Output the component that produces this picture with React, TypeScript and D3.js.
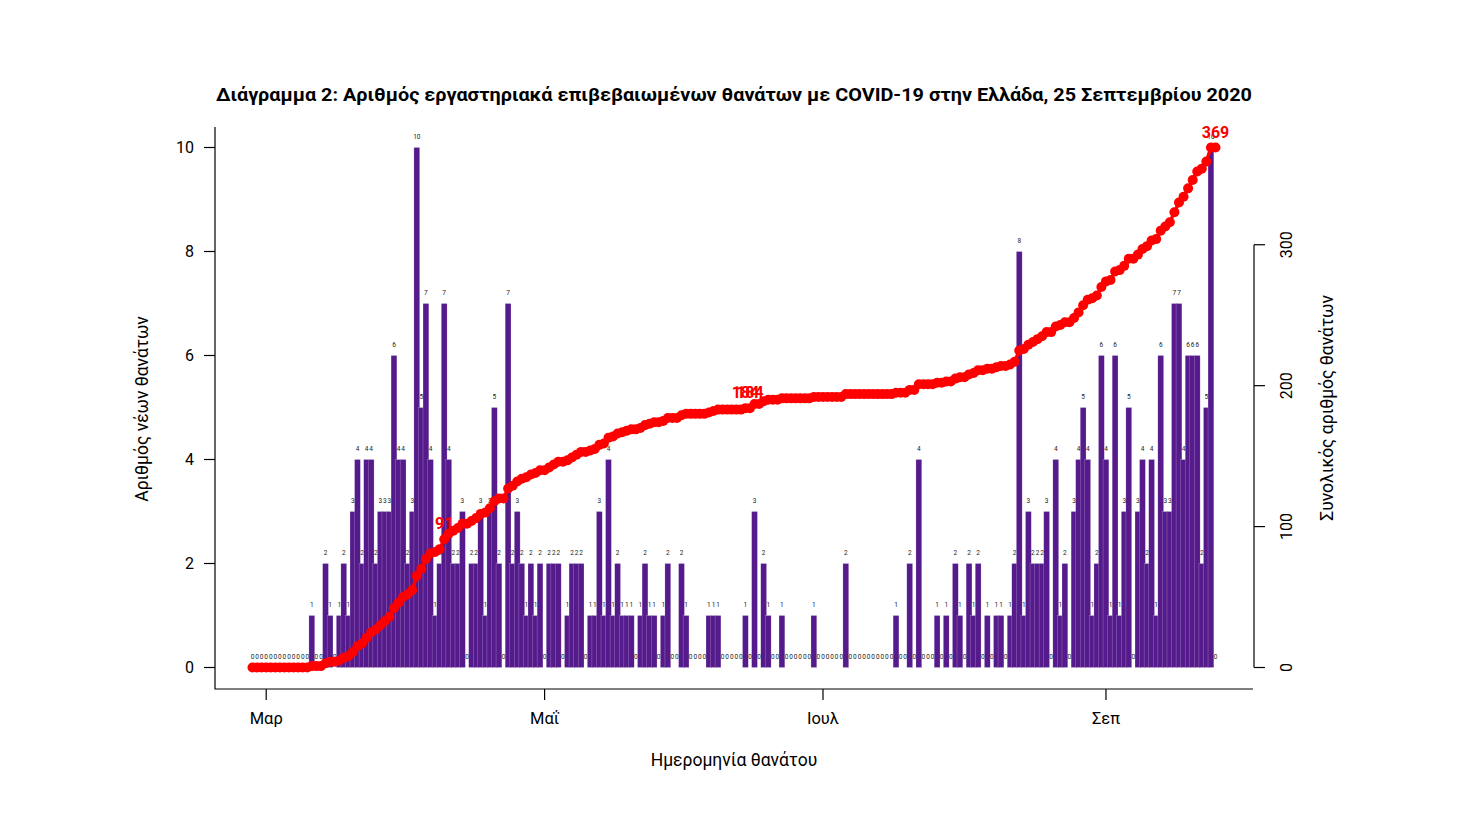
import React, { useEffect, useRef } from 'react';
import * as d3 from 'd3';

// Daily deaths by date of death, 27 Feb - 25 Sep 2020
const deathsFeb = [0, 0, 0];
const deathsMar = [0, 0, 0, 0, 0, 0, 0, 0, 0, 0, 1, 0, 0, 2, 1, 0, 1, 2, 1, 3, 4, 2, 4, 4, 2, 3, 3, 3, 6, 4, 4];
const deathsApr = [2, 3, 10, 5, 7, 4, 1, 2, 7, 4, 2, 2, 3, 0, 2, 2, 3, 1, 3, 5, 2, 0, 7, 2, 3, 2, 1, 2, 1, 2];
const deathsMay = [0, 2, 2, 2, 0, 1, 2, 2, 2, 0, 1, 1, 3, 1, 4, 1, 2, 1, 1, 1, 0, 1, 2, 1, 1, 0, 1, 2, 0, 0, 2];
const deathsJun = [1, 0, 0, 0, 0, 1, 1, 1, 0, 0, 0, 0, 0, 1, 0, 3, 0, 2, 1, 0, 0, 1, 0, 0, 0, 0, 0, 0, 1, 0];
const deathsJul = [0, 0, 0, 0, 0, 2, 0, 0, 0, 0, 0, 0, 0, 0, 0, 0, 1, 0, 0, 2, 0, 4, 0, 0, 0, 1, 0, 1, 0, 2, 1];
const deathsAug = [0, 2, 1, 2, 0, 1, 0, 1, 1, 0, 1, 2, 8, 1, 3, 2, 2, 2, 3, 0, 4, 1, 2, 0, 3, 4, 5, 4, 1, 2, 6];
const deathsSep = [4, 1, 6, 1, 3, 5, 0, 3, 4, 2, 4, 1, 6, 3, 3, 7, 7, 4, 6, 6, 6, 2, 5, 10, 0];

const dailyDeaths = [
  ...deathsFeb, ...deathsMar, ...deathsApr, ...deathsMay,
  ...deathsJun, ...deathsJul, ...deathsAug, ...deathsSep,
];
const startDate = new Date(2020, 1, 27);

const leftTicks = [0, 2, 4, 6, 8, 10];
const rightTicks = [0, 100, 200, 300];
const monthTicks = [
  { date: new Date(2020, 2, 1), label: 'Μαρ' },
  { date: new Date(2020, 4, 1), label: 'Μαΐ' },
  { date: new Date(2020, 6, 1), label: 'Ιουλ' },
  { date: new Date(2020, 8, 1), label: 'Σεπ' },
];
// days whose cumulative total gets a red label
const labelledDays = [42, 108, 109, 211];

const title = 'Διάγραμμα 2: Αριθμός εργαστηριακά επιβεβαιωμένων θανάτων με COVID-19 στην Ελλάδα, 25 Σεπτεμβρίου 2020';

const FONT = 'Roboto, "Noto Sans", sans-serif';

const App = () => {
  const ref = useRef(null);

  useEffect(() => {
    if (!ref.current) return;
    d3.select(ref.current).selectAll('*').remove();

    const width = 1482;
    const height = 816;

    const data = dailyDeaths.map((v, i) => ({
      date: d3.timeDay.offset(startDate, i),
      value: v,
    }));
    const cumulative = Array.from(d3.cumsum(dailyDeaths));
    const endDate = data[data.length - 1].date;

    const x = d3.scaleTime().domain([startDate, endDate]).range([252.5, 1215.5]);
    const yLeft = d3.scaleLinear().domain([0, 10]).range([667.5, 147.5]);
    const yRight = d3.scaleLinear().domain([0, d3.max(cumulative)]).range([667.5, 147.5]);

    const plotLeft = 215;
    const plotRight = 1253;
    const plotTop = 127;
    const plotBottom = 689;

    const svg = d3.select(ref.current)
      .append('svg')
      .attr('width', width)
      .attr('height', height)
      .style('display', 'block')
      .style('background', 'white')
      .style('font-family', FONT);

    // title
    svg.append('text')
      .attr('x', 734)
      .attr('y', 101)
      .attr('text-anchor', 'middle')
      .attr('textLength', 1036)
      .attr('lengthAdjust', 'spacingAndGlyphs')
      .style('font-size', '19px')
      .style('font-weight', 'bold')
      .text(title);

    // bars
    const barW = 5.8;
    svg.append('g')
      .selectAll('rect')
      .data(data.filter(d => d.value > 0))
      .enter()
      .append('rect')
      .attr('x', d => x(d.date) - barW / 2)
      .attr('y', d => yLeft(d.value))
      .attr('width', barW)
      .attr('height', d => yLeft(0) - yLeft(d.value))
      .attr('fill', '#551A8B')
      .attr('stroke', 'rgba(255,255,255,0.4)')
      .attr('stroke-width', 0.5);

    // small value labels above every day
    svg.append('g')
      .selectAll('text')
      .data(data)
      .enter()
      .append('text')
      .attr('x', d => x(d.date))
      .attr('y', d => yLeft(d.value) - 9)
      .attr('text-anchor', 'middle')
      .style('font-size', '6.5px')
      .style('fill', '#222')
      .text(d => d.value);

    // cumulative line + points
    const line = d3.line()
      .x((d, i) => x(data[i].date))
      .y(d => yRight(d));

    svg.append('path')
      .datum(cumulative)
      .attr('d', line)
      .attr('fill', 'none')
      .attr('stroke', 'red')
      .attr('stroke-width', 3.5);

    svg.append('g')
      .selectAll('circle')
      .data(cumulative)
      .enter()
      .append('circle')
      .attr('cx', (d, i) => x(data[i].date))
      .attr('cy', d => yRight(d))
      .attr('r', 5)
      .attr('fill', 'red');

    svg.append('g')
      .selectAll('text')
      .data(labelledDays)
      .enter()
      .append('text')
      .attr('x', i => x(data[i].date))
      .attr('y', i => yRight(cumulative[i]) - 10)
      .attr('text-anchor', 'middle')
      .style('font-size', '16px')
      .style('font-weight', 'bold')
      .style('fill', 'red')
      .text(i => cumulative[i]);

    // frame (left + bottom)
    svg.append('path')
      .attr('d', `M${plotLeft},${plotTop}V${plotBottom}H${plotRight}`)
      .attr('fill', 'none')
      .attr('stroke', 'black')
      .attr('stroke-width', 1.2);

    // left axis
    const gl = svg.append('g');
    gl.selectAll('line')
      .data(leftTicks)
      .enter()
      .append('line')
      .attr('x1', plotLeft - 11)
      .attr('x2', plotLeft)
      .attr('y1', d => yLeft(d))
      .attr('y2', d => yLeft(d))
      .attr('stroke', 'black')
      .attr('stroke-width', 1.2);
    gl.selectAll('text')
      .data(leftTicks)
      .enter()
      .append('text')
      .attr('x', 194)
      .attr('y', d => yLeft(d))
      .attr('dy', '0.35em')
      .attr('text-anchor', 'end')
      .style('font-size', '16px')
      .text(d => d);

    // right axis
    const axisR = 1254;
    const gr = svg.append('g');
    gr.append('line')
      .attr('x1', axisR)
      .attr('x2', axisR)
      .attr('y1', yRight(0))
      .attr('y2', yRight(300))
      .attr('stroke', 'black')
      .attr('stroke-width', 1.2);
    gr.selectAll('line.tick')
      .data(rightTicks)
      .enter()
      .append('line')
      .attr('class', 'tick')
      .attr('x1', axisR)
      .attr('x2', axisR + 11)
      .attr('y1', d => yRight(d))
      .attr('y2', d => yRight(d))
      .attr('stroke', 'black')
      .attr('stroke-width', 1.2);
    gr.selectAll('text')
      .data(rightTicks)
      .enter()
      .append('text')
      .attr('transform', d => `translate(1286,${yRight(d)}) rotate(-90)`)
      .attr('text-anchor', 'middle')
      .attr('dominant-baseline', 'central')
      .style('font-size', '16px')
      .text(d => d);

    // bottom axis
    const gb = svg.append('g');
    gb.selectAll('line')
      .data(monthTicks)
      .enter()
      .append('line')
      .attr('x1', d => x(d.date))
      .attr('x2', d => x(d.date))
      .attr('y1', plotBottom)
      .attr('y2', plotBottom + 11)
      .attr('stroke', 'black')
      .attr('stroke-width', 1.2);
    gb.selectAll('text')
      .data(monthTicks)
      .enter()
      .append('text')
      .attr('x', d => x(d.date))
      .attr('y', 724)
      .attr('text-anchor', 'middle')
      .style('font-size', '16.5px')
      .text(d => d.label);

    // axis titles
    svg.append('text')
      .attr('x', 734)
      .attr('y', 766)
      .attr('text-anchor', 'middle')
      .style('font-size', '17.5px')
      .text('Ημερομηνία θανάτου');

    svg.append('text')
      .attr('transform', 'translate(142,409) rotate(-90)')
      .attr('text-anchor', 'middle')
      .attr('dominant-baseline', 'central')
      .style('font-size', '17.5px')
      .text('Αριθμός νέων θανάτων');

    svg.append('text')
      .attr('transform', 'translate(1327,408) rotate(-90)')
      .attr('text-anchor', 'middle')
      .attr('dominant-baseline', 'central')
      .style('font-size', '17.5px')
      .text('Συνολικός αριθμός θανάτων');
  }, []);

  return <div ref={ref} style={{ position: 'absolute', left: 0, top: 0 }} />;
};

export default App;
